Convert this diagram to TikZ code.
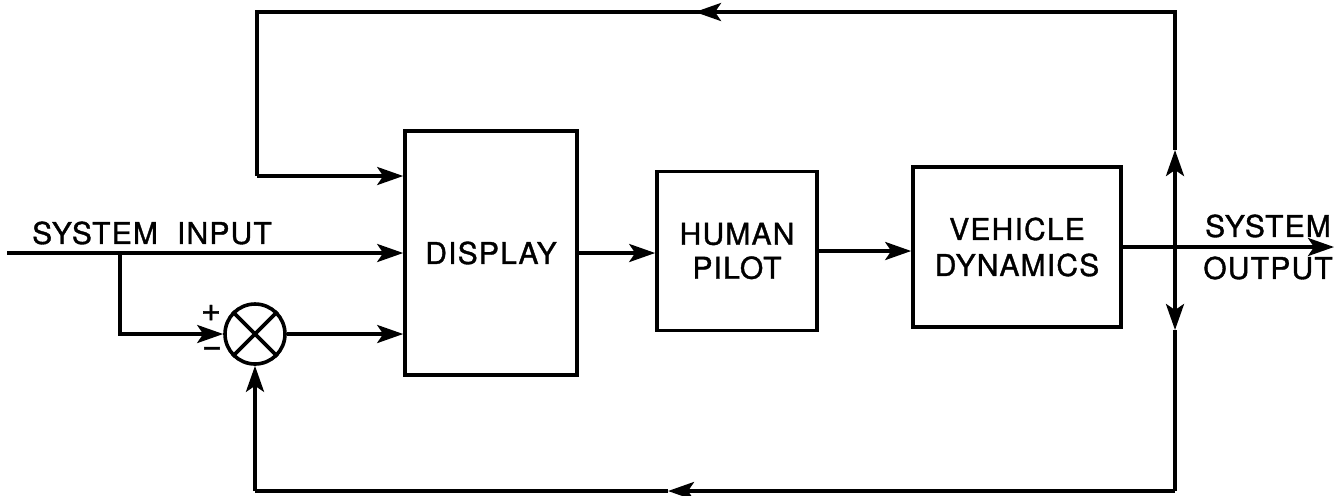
\documentclass[tikz,border=0pt]{standalone}
\usepackage{fontspec}
\setmainfont[LetterSpace=4, FakeBold=1.2]{TeX Gyre Heros}
\usetikzlibrary{arrows.meta}
\usetikzlibrary{positioning}

\tikzset{
  blk/.style={draw, line width=1.8pt, rectangle, align=center, inner sep=0pt},
  lbl/.style={inner sep=0pt, align=center},
  arr/.style={-{Stealth[length=13pt,width=9pt,inset=3pt]}},
}

\begin{document}
\begin{tikzpicture}[x=0.5pt, y=-0.5pt, line width=1.8pt,
  font=\fontsize{15}{17}\selectfont]
\useasboundingbox (0,0) rectangle (1336,495);
% blocks
\node[blk, minimum width=86pt, minimum height=122pt] (disp) at (491,253) {DISPLAY};
\node[blk, minimum width=80pt, minimum height=79.5pt] (pilot) at (737,251) {HUMAN\\[0pt]PILOT};
\node[blk, minimum width=104pt, minimum height=80pt] (veh) at (1017,247) {VEHICLE\\[1pt]DYNAMICS};
\node[draw, circle, line width=1.8pt, minimum size=30pt, inner sep=0pt] (sum) at (255,334) {};
\draw (sum.north west) -- (sum.south east);
\draw (sum.north east) -- (sum.south west);
% labels
\node[lbl] (inlbl) at (152,233) {SYSTEM\ \ INPUT};
\node[lbl] (outa) at (1268,226) {SYSTEM};
\node[lbl] (outb) at (1268,268) {OUTPUT};
\node[lbl, font=\fontsize{17}{17}\selectfont] (plus) at (211,313) {+};
\node[lbl, font=\fontsize{17}{17}\selectfont] (minus) at (212,352) {\textminus};
% points
\coordinate (in) at (7,253);
\coordinate (br) at (120,253);
\coordinate (tap) at (1175,247);
\coordinate (out) at (1334,247);
\coordinate (tr) at (1175,12);
\coordinate (tl) at (257,12);
\coordinate (bl) at (255,491);
\coordinate (brt) at (1175,491);
% forward path
\draw[arr] (in) -- (disp.west);
\draw[arr] (br) |- (sum.west);
\draw[arr] (sum.east) -- (sum.east -| disp.west);
\draw[arr] (disp.east) -- (disp.east -| pilot.west);
\draw[arr] (pilot.east) -- (pilot.east -| veh.west);
\draw[arr] (veh.east) -- (out);
% display feedback
\draw[arr] (tap) -- (1175,150);
\draw (1175,150) -- (tr) -- (695,12);
\draw[arr] (tr) -- (695,12);
\draw (695,12) -- (tl) -- (257,176);
\draw[arr] (257,176) -- (disp.west |- 0,176);
% error feedback
\draw[arr] (tap) -- (1175,330);
\draw (1175,330) -- (brt);
\draw[arr] (brt) -- (668,491);
\draw (668,491) -- (bl);
\draw[arr] (bl) -- (sum.south);
\end{tikzpicture}
\end{document}
